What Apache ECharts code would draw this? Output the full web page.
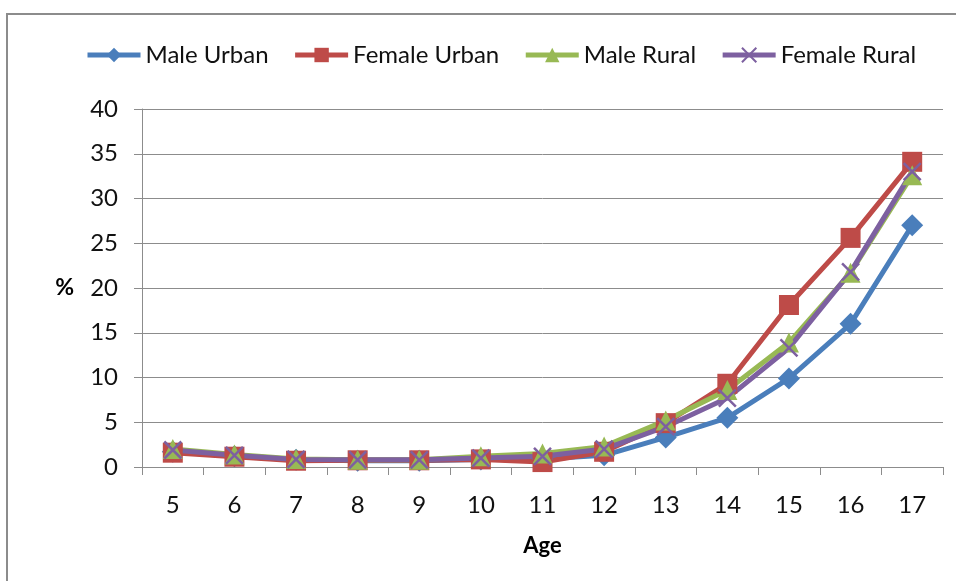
<!DOCTYPE html>
<html>
<head>
<meta charset="utf-8">
<script src="https://cdn.jsdelivr.net/npm/echarts@6/dist/echarts.min.js"></script>
<style>
  html, body { margin: 0; padding: 0; background: #fff; overflow: hidden; }
  #frame { position: absolute; left: 6px; top: 13px; width: 1000px; height: 620px; border: 2px solid #8c8c8c; }
  #chart { position: absolute; left: 0; top: 0; width: 956px; height: 581px; }
</style>
</head>
<body>
<div id="frame"></div>
<div id="chart"></div>
<script>
// 数据
const ages = ["5", "6", "7", "8", "9", "10", "11", "12", "13", "14", "15", "16", "17"];
const maleUrban = [1.7, 1.2, 0.8, 0.7, 0.7, 0.85, 0.9, 1.3, 3.3, 5.5, 9.9, 16.0, 27.0];
const femaleUrban = [1.6, 1.15, 0.7, 0.75, 0.75, 0.85, 0.55, 1.7, 4.9, 9.3, 18.1, 25.6, 34.1];
const maleRural = [2.0, 1.4, 0.9, 0.8, 0.8, 1.2, 1.5, 2.3, 5.2, 8.6, 13.9, 21.7, 32.6];
const femaleRural = [1.9, 1.3, 0.85, 0.8, 0.8, 1.0, 1.2, 2.0, 4.5, 7.7, 13.3, 21.8, 33.0];
const yTicks = [0, 5, 10, 15, 20, 25, 30, 35, 40];

const font = "Lato";
const crossPath = "path://M0,0L10,10M10,0L0,10";

function makeSeries(name, data, color, symbol, size) {
  return {
    name: name,
    type: "line",
    data: data,
    symbol: symbol,
    symbolSize: size,
    lineStyle: { color: color, width: 5 },
    itemStyle: symbol === crossPath
      ? { color: color, borderColor: color, borderWidth: 2.5 }
      : { color: color },
    emphasis: { disabled: true },
    animation: false,
  };
}

const chart = echarts.init(document.getElementById("chart"));
chart.setOption({
  textStyle: { fontFamily: font },
  legend: {
    left: 80,
    top: 38,
    itemWidth: 53,
    itemHeight: 18,
    itemGap: 24,
    lineStyle: { width: 5 },
    textStyle: { fontFamily: font, fontSize: 24, color: "#111" },
  },
  grid: { left: 142, right: 13, top: 109, bottom: 114 },
  xAxis: {
    type: "category",
    data: ages,
    boundaryGap: true,
    name: "Age",
    nameLocation: "middle",
    nameGap: 68,
    nameTextStyle: { fontFamily: font, fontSize: 22, fontWeight: "bold", color: "#000" },
    axisLine: { lineStyle: { color: "#8c8c8c", width: 1 } },
    axisTick: { show: true, length: 8, lineStyle: { color: "#8c8c8c" } },
    axisLabel: { fontFamily: font, fontSize: 24, color: "#111", margin: 26 },
  },
  yAxis: {
    type: "value",
    min: yTicks[0],
    max: yTicks[yTicks.length - 1],
    interval: 5,
    name: "%",
    nameLocation: "middle",
    nameRotate: 0,
    nameGap: 68,
    nameTextStyle: { fontFamily: font, fontSize: 23, fontWeight: "bold", color: "#000", padding: [10, 0, 0, 0] },
    axisLine: { show: true, lineStyle: { color: "#8c8c8c", width: 1 } },
    axisTick: { show: true, length: 8, lineStyle: { color: "#8c8c8c" } },
    axisLabel: { fontFamily: font, fontSize: 24, color: "#111", margin: 24 },
    splitLine: { lineStyle: { color: "#8c8c8c", width: 1 } },
  },
  series: [
    makeSeries("Male Urban", maleUrban, "#4a7ebb", "diamond", 22),
    makeSeries("Female Urban", femaleUrban, "#be4b48", "rect", 20),
    makeSeries("Male Rural", maleRural, "#98b954", "triangle", 20),
    makeSeries("Female Rural", femaleRural, "#7d60a0", crossPath, 17),
  ],
});
</script>
</body>
</html>
